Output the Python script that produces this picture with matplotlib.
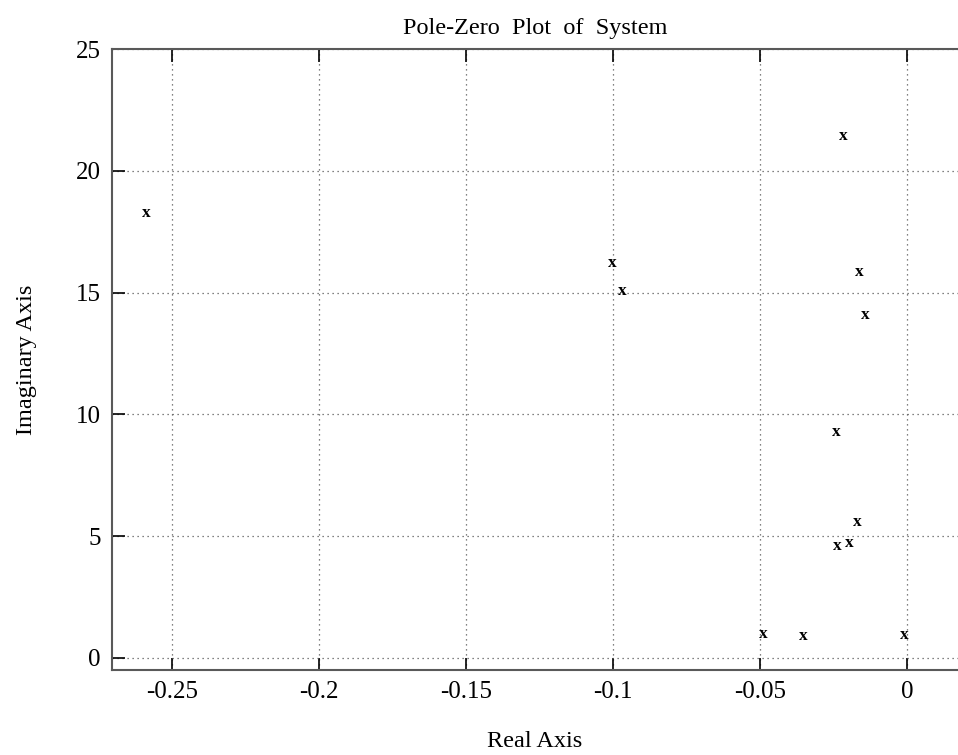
import matplotlib
matplotlib.use("Agg")
import matplotlib.pyplot as plt

# pole locations
pole_re = [-0.2588, -0.1002, -0.0968, -0.0217, -0.0160, -0.0142, -0.0239,
           -0.0169, -0.0238, -0.0196, -0.0489, -0.0353, -0.0010]
pole_im = [18.26, 16.23, 15.07, 21.44, 15.85, 14.08, 9.26,
           5.58, 4.61, 4.73, 0.97, 0.90, 0.94]

x_ticks = [-0.25, -0.2, -0.15, -0.1, -0.05, 0]
x_labels = ["-0.25", "-0.2", "-0.15", "-0.1", "-0.05", "0"]
y_ticks = [0, 5, 10, 15, 20, 25]

plt.rcParams['font.family'] = ['Liberation Serif', 'DejaVu Serif']

fig = plt.figure(figsize=(9.58, 7.55), dpi=100)
ax = fig.add_axes([112 / 958, 1 - 670 / 755, 1 - 112 / 958, (670 - 49) / 755])

# poles drawn as bold text "x" like the old pzmap output
for re, im in zip(pole_re, pole_im):
    ax.text(re, im, "x", ha='center', va='center', fontsize=12.5,
            fontweight='bold', color='black')

ax.set_xlim(-0.2703, 0.0174)
ax.set_ylim(-0.5, 25)
ax.set_xticks(x_ticks)
ax.set_xticklabels(x_labels)
ax.set_yticks(y_ticks)

ax.grid(True, linestyle=(0, (1, 3)), color='0.35', linewidth=0.9)
ax.tick_params(direction='in', length=9, width=1.2, labelsize=18,
               top=True, right=False, pad=8, colors='black')
for side in ['left', 'bottom', 'top']:
    ax.spines[side].set_color('0.35')
    ax.spines[side].set_linewidth(1.5)
ax.spines['right'].set_visible(False)

ax.set_title("Pole-Zero  Plot  of  System", fontsize=17.5, pad=11)
ax.set_xlabel("Real Axis", fontsize=17.5, labelpad=20)
ax.set_ylabel("Imaginary Axis", fontsize=17.5, labelpad=28)

fig.savefig("out.png", dpi=100)
